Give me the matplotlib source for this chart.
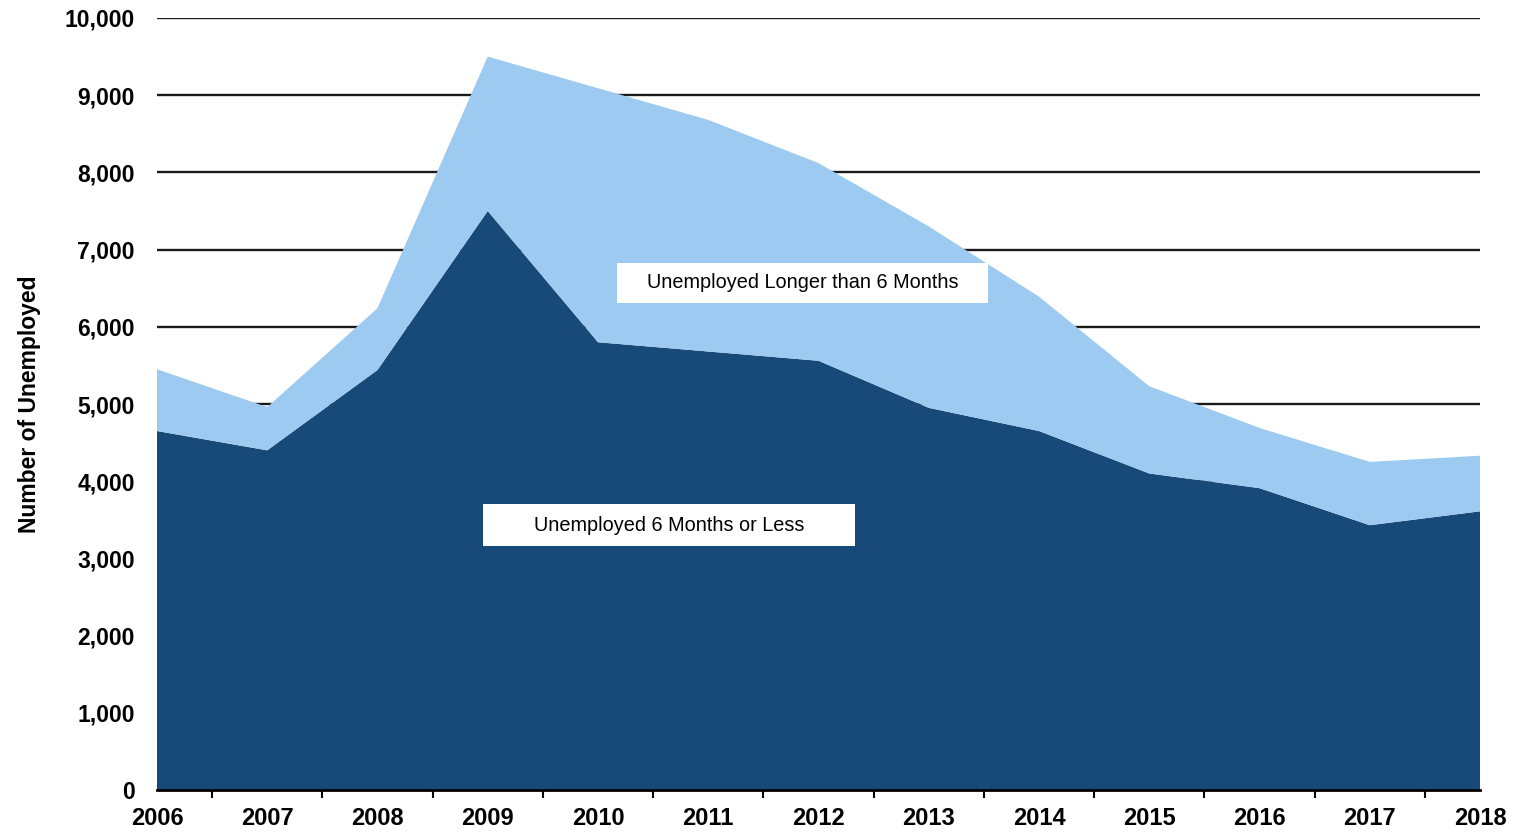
"""Stacked area: unemployed by duration, 2006-2018."""
import matplotlib
matplotlib.use("Agg")
import matplotlib.pyplot as plt
from matplotlib.patches import Rectangle
from matplotlib.ticker import FuncFormatter, MultipleLocator

years = [2006, 2007, 2008, 2009, 2010, 2011, 2012, 2013, 2014, 2015, 2016, 2017, 2018]
short_term = [4650, 4400, 5440, 7500, 5800, 5680, 5560, 4950, 4650, 4100, 3910, 3430, 3610]
total = [5450, 4960, 6240, 9500, 9090, 8680, 8120, 7300, 6390, 5230, 4690, 4250, 4330]
long_term = [t - s for t, s in zip(total, short_term)]

labels = ["Unemployed 6 Months or Less", "Unemployed Longer than 6 Months"]
colors = ["#174a78", "#9ccaf0"]

plt.rcParams["font.family"] = ["Liberation Sans", "DejaVu Sans"]

fig = plt.figure(figsize=(15.18, 8.33), dpi=100)
ax = fig.add_axes([0.1034, 0.0516, 0.8716, 0.9268])

ax.stackplot(years, short_term, long_term, colors=colors, zorder=2)

ax.set_xlim(years[0], years[-1])
ax.set_ylim(0, 10000)
ax.yaxis.set_major_locator(MultipleLocator(1000))
ax.yaxis.set_major_formatter(FuncFormatter(lambda v, _: f"{int(v):,}"))
ax.set_xticks(years)
ax.set_xticks([y + 0.5 for y in years[:-1]] + [years[-1]], minor=True)

for v in range(1000, 10001, 1000):
    ax.axhline(v, color="#1a1a1a", lw=1.7, zorder=1)

for side in ["left", "right", "top"]:
    ax.spines[side].set_visible(False)
ax.spines["bottom"].set_linewidth(2)
ax.spines["bottom"].set_zorder(3)

ax.tick_params(axis="y", length=0, pad=16, labelsize=16.5)
ax.tick_params(axis="x", which="major", length=0, pad=12, labelsize=17)
ax.tick_params(axis="x", which="minor", length=6, width=1.5, direction="out")
for lab in ax.get_xticklabels() + ax.get_yticklabels():
    lab.set_fontweight("bold")

ax.set_ylabel("Number of Unemployed", fontsize=16.5, fontweight="bold")
ax.yaxis.set_label_coords(-0.088, 0.5)

# label boxes
boxes = [(0.2464, 0.316, 0.2812, 0.0545), (0.3477, 0.631, 0.2804, 0.052)]
for (x0, y0, w, h), text in zip(boxes, labels):
    ax.add_patch(Rectangle((x0, y0), w, h, transform=ax.transAxes,
                           facecolor="white", edgecolor="none", zorder=4))
    ax.text(x0 + w / 2, y0 + h / 2, text, transform=ax.transAxes,
            ha="center", va="center", fontsize=14.3, zorder=5)

fig.savefig("out.png", dpi=100)
